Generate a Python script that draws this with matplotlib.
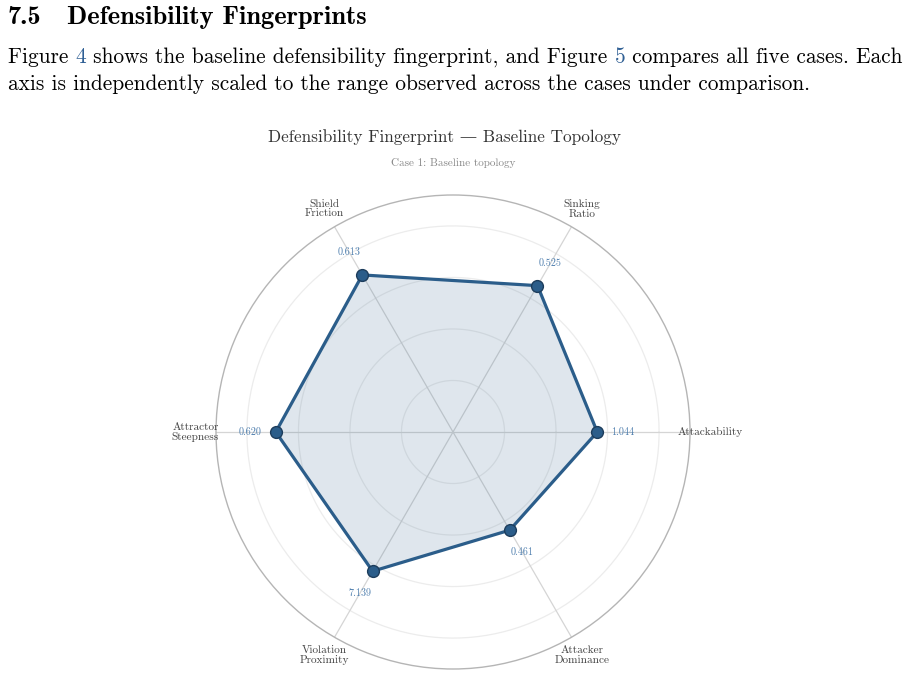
import matplotlib
matplotlib.use("Agg")
import matplotlib.pyplot as plt
import numpy as np

# chart data
axis_labels = ["Attackability", "Sinking\nRatio", "Shield\nFriction",
               "Attractor\nSteepness", "Violation\nProximity", "Attacker\nDominance"]
raw_values = ["1.044", "0.525", "0.613", "0.620", "7.139", "0.461"]
scaled = [0.70, 0.82, 0.88, 0.86, 0.78, 0.55]
grid_levels = [0.25, 0.5, 0.75, 1.0]

SERIF = ["cmr10", "DejaVu Serif"]
BOLD = ["cmb10", "DejaVu Serif"]
LINE = "#2b5d8a"
LINK = "#2f5f94"

fig = plt.figure(figsize=(9.14, 6.79), dpi=100)
fig.patch.set_facecolor("white")


def inline(x, y, pieces, size, family=SERIF, weight="normal"):
    # place text pieces one after another, so some can be coloured
    r = fig.canvas.get_renderer()
    for s, c in pieces:
        t = fig.text(x, y, s, fontsize=size, color=c, family=family,
                     weight=weight, va="baseline", ha="left")
        bb = t.get_window_extent(renderer=r)
        x += bb.width / fig.bbox.width


inline(8 / 914, 1 - 24 / 679, [("7.5", "black")], 19, family=BOLD)
inline(67 / 914, 1 - 24 / 679, [("Defensibility Fingerprints", "black")], 19, family=BOLD)
inline(8 / 914, 1 - 63 / 679,
       [("Figure ", "black"), ("4", LINK),
        (" shows the baseline defensibility fingerprint, and Figure ", "black"),
        ("5", LINK), (" compares all five cases. Each", "black")], 15.4)
inline(8 / 914, 1 - 90 / 679,
       [("axis is independently scaled to the range observed across the cases under comparison.", "black")], 15.4)

cx, cy, R = 453, 432, 237
ax = fig.add_axes([(cx - R) / 914, (679 - cy - R) / 679, 2 * R / 914, 2 * R / 679],
                  projection="polar")
rmax = 1.15
angles = np.deg2rad(np.arange(len(axis_labels)) * 60.0)

ax.set_ylim(0, rmax)
ax.set_xticks([])
ax.set_yticks([])
ax.grid(False)
ax.spines["polar"].set_color("#b5b5b5")
ax.spines["polar"].set_linewidth(1.0)

th = np.linspace(0, 2 * np.pi, 300)
for g in grid_levels:
    ax.plot(th, np.full_like(th, g), color="#ececec", lw=0.9, zorder=1)
for a in angles:
    ax.plot([a, a], [0, rmax], color="#d5d5d5", lw=0.9, zorder=1)

closed_a = np.append(angles, angles[0])
closed_v = np.append(scaled, scaled[0])
ax.fill(closed_a, closed_v, color=LINE, alpha=0.15, zorder=2, lw=0)
ax.plot(closed_a, closed_v, color=LINE, lw=2.3, zorder=3)
ax.plot(angles, scaled, "o", ms=8.5, color=LINE, mec="#1d3d5c", mew=1.0, zorder=4)

for a, v, s in zip(angles, scaled, raw_values):
    ax.text(a, v + 0.125, s, fontsize=7.3, color="#4f7fae", family=SERIF,
            ha="center", va="center", zorder=5)

for a, lab in zip(angles, axis_labels):
    ax.text(a, 1.25, lab, fontsize=8.1, color="#444444", family=SERIF,
            ha="center", va="center", linespacing=1.0, clip_on=False)

fig.text(445 / 914, 1 - 137 / 679, "Defensibility Fingerprint \u2014 Baseline Topology",
         fontsize=12.4, color="#333333", family=SERIF, ha="center", va="center")
fig.text(453 / 914, 1 - 163 / 679, "Case 1: Baseline topology",
         fontsize=8, color="#888888", family=SERIF, ha="center", va="center")

fig.savefig("out.png", dpi=100)
